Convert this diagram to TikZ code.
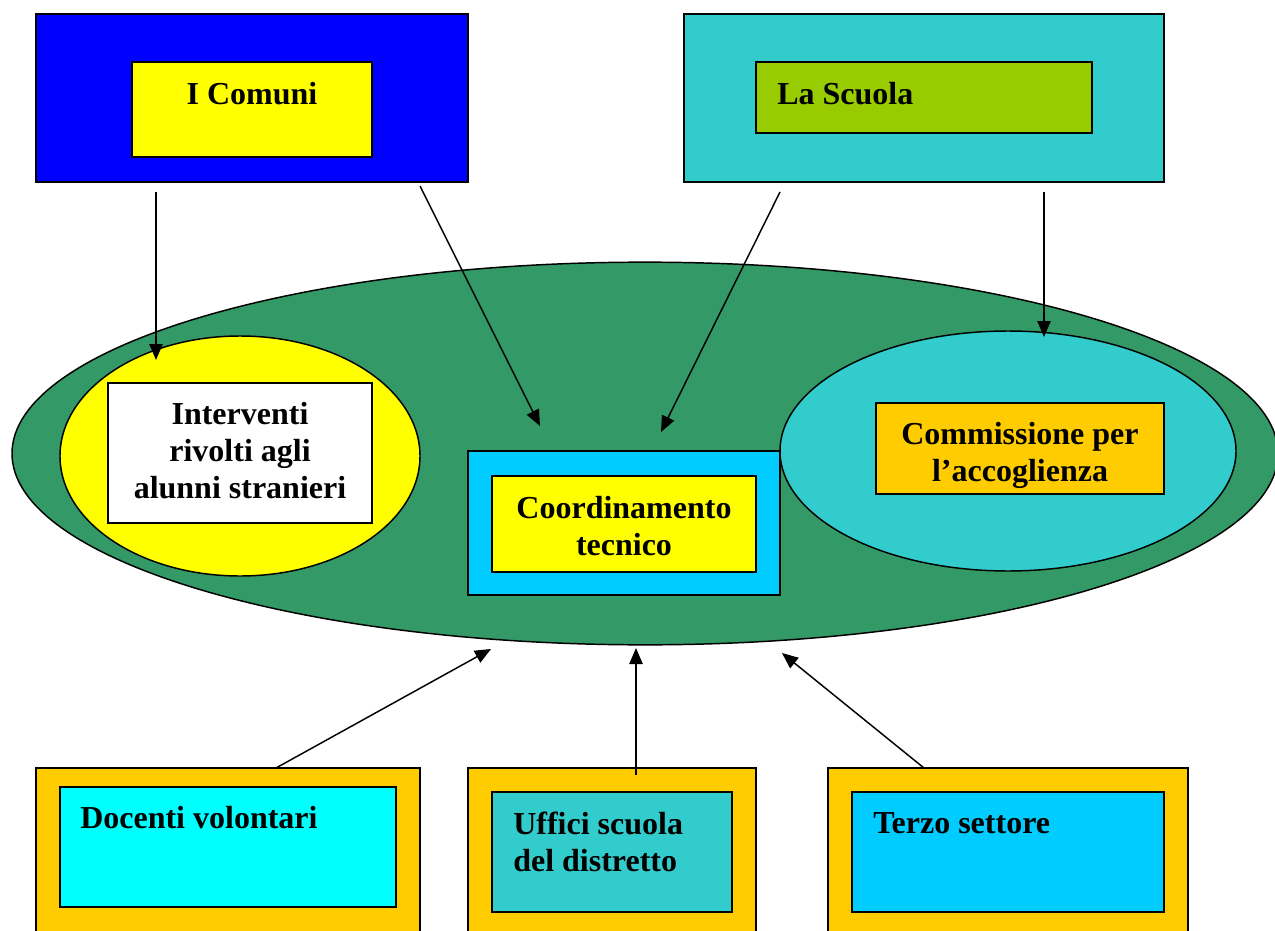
\documentclass[tikz,border=0pt]{standalone}
\usepackage{fontspec}
\setmainfont{Liberation Serif}
\usetikzlibrary{arrows.meta,shapes.geometric,fit}
\definecolor{cblue}{RGB}{0,0,255}
\definecolor{cyel}{RGB}{255,255,0}
\definecolor{cteal}{RGB}{51,204,204}
\definecolor{clime}{RGB}{153,204,0}
\definecolor{cgreen}{RGB}{51,153,102}
\definecolor{corange}{RGB}{255,204,0}
\definecolor{ccyan}{RGB}{0,255,255}
\definecolor{csky}{RGB}{0,204,255}
\begin{document}
\begin{tikzpicture}[x=0.75pt,y=-0.75pt,
  box/.style={draw=black, line width=1.5pt, inner sep=0pt},
  ell/.style={draw=black, line width=1.1pt, ellipse, inner sep=0pt},
  lbl/.style={font=\fontsize{24}{27.75}\selectfont\bfseries, inner sep=0pt},
  arr/.style={line width=1.1pt, -{Triangle[length=12pt,width=10pt]}}]
\useasboundingbox (0,0) rectangle (1275,931);
% top boxes
\node[box, fill=cblue, fit={(36,14) (468,182)}] (comuni) {};
\node[box, fill=cyel, fit={(132,62) (372,157)}] (comuniIn) {};
\node[lbl, anchor=base] (comuniT) at (252,104) {I Comuni};
\node[box, fill=cteal, fit={(684,14) (1164,182)}] (scuola) {};
\node[box, fill=clime, fit={(756,62) (1092,133)}] (scuolaIn) {};
\node[lbl, anchor=base west] (scuolaT) at (777,104) {La Scuola};
% big ellipse
\node[ell, fill=cgreen, minimum width=949.5pt, minimum height=287pt] (big) at (645,453.5) {};
\node[ell, fill=cyel, minimum width=270pt, minimum height=180pt] (yell) at (240,456) {};
\node[box, fill=white, fit={(108,383) (372,523)}] (interv) {};
\node[lbl, align=center] (intervT) at (240,451) {Interventi\\rivolti agli\\alunni stranieri};
\node[ell, fill=cteal, minimum width=342pt, minimum height=180pt] (tell) at (1008,451) {};
\node[box, fill=corange, fit={(876,403) (1164,494)}] (comm) {};
\node[lbl, align=center] (commT) at (1020,455) {Commissione per\\l’accoglienza};
\node[box, fill=csky, fit={(468,451) (780,595)}] (coord) {};
\node[box, fill=cyel, fit={(492,476) (756,572)}] (coordIn) {};
\node[lbl, align=center] (coordT) at (624,526) {Coordinamento\\tecnico};
% bottom boxes
\node[box, fill=corange, fit={(36,768) (420,960)}] (doc) {};
\node[box, fill=ccyan, fit={(60,787) (396,907)}] (docIn) {};
\node[lbl, anchor=base west] (docT) at (80,828) {Docenti volontari};
\node[box, fill=corange, fit={(468,768) (756,960)}] (uff) {};
\node[box, fill=cteal, fit={(492,792) (732,912)}] (uffIn) {};
\node[lbl, align=left, anchor=west] (uffT) at (513,842) {Uffici scuola\\del distretto};
\node[box, fill=corange, fit={(828,768) (1188,960)}] (ter) {};
\node[box, fill=csky, fit={(852,792) (1164,912)}] (terIn) {};
\node[lbl, anchor=base west] (terT) at (873,833) {Terzo settore};
% arrow end points
\coordinate (a1s) at (156,192); \coordinate (a1e) at (156,360);
\coordinate (a2s) at (420,186); \coordinate (a2e) at (540,426);
\coordinate (a3s) at (780,192); \coordinate (a3e) at (661,432);
\coordinate (a4s) at (1044,192); \coordinate (a4e) at (1044,337);
\coordinate (a5s) at (276,768); \coordinate (a5e) at (491,649);
\coordinate (a6s) at (636,775); \coordinate (a6e) at (636,648);
\coordinate (a7s) at (924,768); \coordinate (a7e) at (782,653);
\draw[arr] (a1s) -- (a1e);
\draw[arr] (a2s) -- (a2e);
\draw[arr] (a3s) -- (a3e);
\draw[arr] (a4s) -- (a4e);
\draw[arr] (a5s) -- (a5e);
\draw[arr] (a6s) -- (a6e);
\draw[arr] (a7s) -- (a7e);
\end{tikzpicture}
\end{document}
